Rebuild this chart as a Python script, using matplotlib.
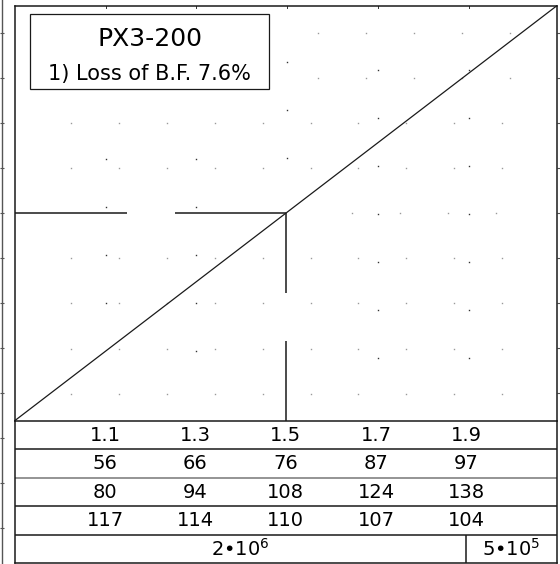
"""PX3-200 calibration chart with a ratio / value table underneath."""

import matplotlib
matplotlib.use("Agg")
import matplotlib.pyplot as plt
import matplotlib.patches as patches
import numpy as np

# ----------------------------------------------------------------------
# Data
# ----------------------------------------------------------------------
TITLE = "PX3-200"
SUBTITLE = "1) Loss of B.F. 7.6%"

CAL_X = [0.0, 1.0]          # calibration line, frame fractions
CAL_Y = [0.0, 1.0]
READ_X = 0.5                # reading point (column "1.5")
READ_Y = 0.5
GAP_X = (0.207, 0.295)      # break in the horizontal guide
GAP_Y = (0.308, 0.192)      # break in the vertical guide

RATIO = ["1.1", "1.3", "1.5", "1.7", "1.9"]
ROW_A = [56, 66, 76, 87, 97]
ROW_B = [80, 94, 108, 124, 138]
ROW_C = [117, 114, 110, 107, 104]
CYCLES = ["2•10$^{6}$", "5•10$^{5}$"]

# ----------------------------------------------------------------------
# Layout (pixels of the 560 x 564 output)
# ----------------------------------------------------------------------
W, H = 560, 564
PX0, PX1 = 15.0, 556.5      # frame left / right
PY0, PY1 = 6.0, 420.5       # frame top / plot bottom
TY1 = 563.0                 # table bottom
COL_LINE = "#1a1a1a"
COL_DOT = "#9a9a9a"
COL_DARK = "#333333"


def fx(px):
    return (px - PX0) / (PX1 - PX0)


def fy(py):
    return (PY1 - py) / (PY1 - PY0)


fig = plt.figure(figsize=(W / 100, H / 100), dpi=100)
fig.patch.set_facecolor("white")

# background axes in pixel units: outer left rule with ticks
bg = fig.add_axes([0, 0, 1, 1])
bg.set_xlim(0, W)
bg.set_ylim(H, 0)
bg.axis("off")
bg.plot([2, 2], [0, H], color="#555555", lw=1.0)
rule_ticks = 33 + 45 * np.arange(12)
bg.hlines(rule_ticks, 0, 4, color="#555555", lw=0.8)
bg.hlines(rule_ticks[:9], PX1, PX1 + 3, color="#555555", lw=0.8)

# ----------------------------------------------------------------------
# Plot area
# ----------------------------------------------------------------------
ax = fig.add_axes([PX0 / W, (H - PY1) / H, (PX1 - PX0) / W, (PY1 - PY0) / H])
ax.set_xlim(0, 1)
ax.set_ylim(0, 1)
ax.set_xticks([])
ax.set_yticks([])
ax.patch.set_alpha(0)
for s in ax.spines.values():
    s.set_color(COL_LINE)
    s.set_linewidth(1.1)

# faint drafting grid (gray dots) : (row y, first x, last x)
gray_rows = [(33, 318, 512), (78, 318, 512), (123, 71, 505), (168, 71, 505),
             (213, 352, 500), (258, 71, 505), (303, 71, 505), (349, 71, 505),
             (394, 71, 505)]
for gy, x0, x1 in gray_rows:
    xs = np.arange(x0, x1, 47.9)
    ax.plot(fx(xs), np.full(len(xs), fy(gy)), ls="none", marker="s",
            ms=1.0, mew=0, color=COL_DOT)

# darker dots on the 1/6 grid : (column x, y values)
dark_cols = [(105.7, [159, 207, 255, 303]),
             (196.4, [159, 207, 255, 303, 351]),
             (287.0, [62, 110, 158]),
             (377.8, [70, 118, 166, 214, 262, 310, 358]),
             (468.5, [70, 118, 166, 214, 262, 310, 358])]
for cx, ys in dark_cols:
    ys = np.array(ys, dtype=float)
    ax.plot(np.full(len(ys), fx(cx)), fy(ys), ls="none", marker="s",
            ms=1.0, mew=0, color=COL_DARK)
    ax.plot([fx(cx)] * 2, [1.0, fy(PY0 + 2)], color=COL_DARK, lw=0.7)

# calibration line
ax.plot(CAL_X, CAL_Y, color=COL_LINE, lw=0.9, clip_on=False)

# reading guides with breaks
guide = dict(color=COL_LINE, lw=1.1, solid_capstyle="butt")
ax.plot([0, GAP_X[0]], [READ_Y, READ_Y], **guide)
ax.plot([GAP_X[1], READ_X], [READ_Y, READ_Y], **guide)
ax.plot([READ_X, READ_X], [READ_Y, GAP_Y[0]], **guide)
ax.plot([READ_X, READ_X], [GAP_Y[1], 0], **guide)

# title box
bx0, bx1, by0, by1 = fx(30), fx(269), fy(89), fy(14)
ax.add_patch(patches.Rectangle((bx0, by0), bx1 - bx0, by1 - by0,
                               fc="white", ec=COL_LINE, lw=0.9, zorder=3))
ax.text((bx0 + bx1) / 2, fy(39), TITLE, ha="center", va="center",
        fontsize=18, zorder=4)
ax.text((bx0 + bx1) / 2, fy(74), SUBTITLE, ha="center", va="center",
        fontsize=15, zorder=4)

# ----------------------------------------------------------------------
# Table
# ----------------------------------------------------------------------
tab = fig.add_axes([PX0 / W, (H - TY1) / H, (PX1 - PX0) / W, (TY1 - PY1) / H])
tab.set_xlim(0, 1)
tab.set_ylim(5, 0)
tab.set_xticks([])
tab.set_yticks([])
tab.patch.set_alpha(0)
for s in tab.spines.values():
    s.set_color(COL_LINE)
    s.set_linewidth(1.1)
tab.spines["top"].set_visible(False)
tab.hlines([1, 3, 4], 0, 1, color=COL_LINE, lw=1.1)
tab.hlines([2], 0, 1, color="#777777", lw=1.1)
tab.vlines([5 / 6], 4, 5, color=COL_LINE, lw=1.1)

col_x = np.arange(1, 6) / 6
for r, row in enumerate([RATIO, ROW_A, ROW_B, ROW_C]):
    for x, v in zip(col_x, row):
        tab.text(x, r + 0.52, str(v), ha="center", va="center", fontsize=14)

tab.text(5 / 12, 4.5, CYCLES[0], ha="center", va="center", fontsize=14)
tab.text(11 / 12, 4.5, CYCLES[1], ha="center", va="center", fontsize=14)

fig.savefig("out.png", dpi=100)
